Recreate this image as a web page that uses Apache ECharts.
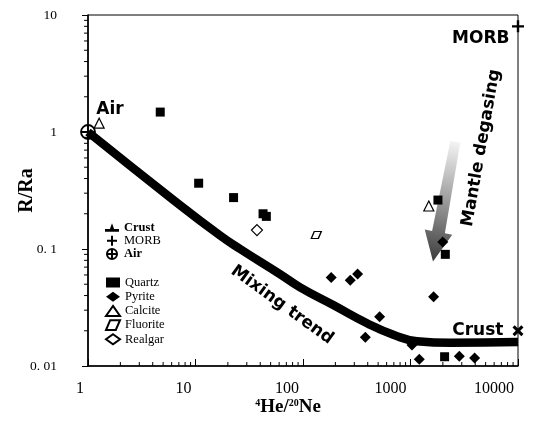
<!DOCTYPE html>
<html><head><meta charset="utf-8">
<script src="https://cdn.jsdelivr.net/npm/echarts@6/dist/echarts.min.js"></script>
<style>html,body{margin:0;padding:0;background:#fff}#c{width:554px;height:425px}</style>
</head><body><div id="c"></div>
<script>
// ---- data ----
const xTicks = [1, 10, 100, 1000, 10000];
const xTickLabels = ['1', '10', '100', '1000', '10000'];
const yTicks = [0.01, 0.1, 1, 10];
const yTickLabels = ['0. 01', '0. 1', '1', '10'];

const airPt = [[1, 1]];
const morbPt = [[10000, 8]];
const crustPt = [[10000, 0.02]];

const quartzX = [4.7, 10.7, 22.6, 42.5, 45.6, 1800, 2108, 2076];
const quartzY = [1.48, 0.365, 0.275, 0.20, 0.19, 0.262, 0.090, 0.012];
const pyriteX = [183, 275, 322, 1640, 516, 380, 1032, 1207, 2844, 3948, 1995];
const pyriteY = [0.057, 0.054, 0.061, 0.039, 0.0264, 0.0176, 0.0151, 0.0114, 0.0121, 0.0117, 0.115];
const calciteX = [1.27, 1480];
const calciteY = [1.19, 0.233];
const fluoriteX = [133];
const fluoriteY = [0.132];
const realgarX = [37.3];
const realgarY = [0.145];

const trendX = [1, 6, 17, 26, 61, 94, 193, 394, 692, 1150, 2345, 10000];
const trendY = [1, 0.27, 0.13, 0.100, 0.061, 0.047, 0.033, 0.0232, 0.0185, 0.0163, 0.0158, 0.016];

// arrow: [xStart, yStart, xTip, yTip]
const degasArrow = [[2612, 0.826, 1619, 0.078]];

// annotations: [x, y, text, rotationDeg]
const notes = [
  [1.6, 1.57, 'Air', 0],
  [4508, 6.32, 'MORB', 0],
  [4227, 0.0199, 'Crust', 0],
  [63.8, 0.0332, 'Mixing trend', -36],
  [4560, 0.73, 'Mantle degasing', 80]
];

// minor tick positions (log axis decoration)
const mant = [2, 3, 4, 5, 6, 7, 8, 9];
const xMinor = [];
[1, 10, 100, 1000].forEach(d => mant.forEach(m => xMinor.push([m * d, 0.01])));
const yMinor = [];
[0.01, 0.1, 1].forEach(d => mant.forEach(m => yMinor.push([1, +(m * d).toPrecision(3)])));

const zip = (a, b) => a.map((v, i) => [v, b[i]]);
function lookup(v, ticks, labels) {
  for (let i = 0; i < ticks.length; i++) {
    if (Math.abs(Math.log10(v) - Math.log10(ticks[i])) < 1e-6) return labels[i];
  }
  return '';
}

const chart = echarts.init(document.getElementById('c'), null, {renderer: 'canvas'});
const serif = 'Liberation Serif';
const bold = 'bold 17px "DejaVu Sans"';

const airPath = 'path://M10,0 A10,10 0 1,1 10,20 A10,10 0 1,1 10,0 Z M0,10 L20,10 M10,0 L10,20';
const plusPath = 'path://M4,0 L6,0 L6,4 L10,4 L10,6 L6,6 L6,10 L4,10 L4,6 L0,6 L0,4 L4,4 Z';
const crossPath = 'path://M2,0 L5,3 L8,0 L10,2 L7,5 L10,8 L8,10 L5,7 L2,10 L0,8 L3,5 L0,2 Z';
const crustIcon = 'path://M0,8 L10,8 L10,10 L0,10 Z M3.5,8 L5,4 L6.5,8 Z';
const paraPath = 'path://M3,0 L10,0 L7,7 L0,7 Z';

const option = {
  animation: false,
  backgroundColor: '#fff',
  grid: {left: 88, right: 36, top: 15, bottom: 59, show: true, borderColor: '#000', borderWidth: 1,
    containLabel: false, outerBoundsMode: 'none'},
  legend: [
    {
      orient: 'vertical', left: 100, top: 216, itemWidth: 14, itemHeight: 10, itemGap: 0.2,
      selectedMode: false,
      textStyle: {fontFamily: serif, fontSize: 12.5, color: '#000'},
      data: [
        {name: 'Crust', icon: crustIcon, textStyle: {fontWeight: 'bold'}},
        {name: 'MORB'},
        {name: 'Air', textStyle: {fontWeight: 'bold'}}
      ]
    },
    {
      orient: 'vertical', left: 100, top: 271, itemWidth: 14, itemHeight: 10, itemGap: 1.2,
      selectedMode: false,
      textStyle: {fontFamily: serif, fontSize: 12.5, color: '#000'},
      data: ['Quartz', 'Pyrite', 'Calcite', 'Fluorite', 'Realgar']
    }
  ],
  xAxis: {
    type: 'log', logBase: 10, min: 1, max: 10000,
    name: '{s|4}He/{s|20}Ne', nameLocation: 'middle', nameGap: 32, nameMoveOverlap: false,
    nameTextStyle: {
      fontFamily: serif, fontWeight: 'bold', fontSize: 19, color: '#000', padding: [0, 30, 0, 0],
      rich: {s: {fontFamily: serif, fontWeight: 'bold', fontSize: 10, verticalAlign: 'top', padding: [0, 0, 8, 0]}}
    },
    axisLine: {lineStyle: {color: '#000', width: 1.6}},
    axisTick: {inside: true, length: 7, lineStyle: {color: '#000', width: 1}},
    axisLabel: {
      fontFamily: serif, fontSize: 16, color: '#000', margin: 15, align: 'right', padding: [0, 4, 0, 0],
      formatter: v => lookup(v, xTicks, xTickLabels)
    },
    splitLine: {show: false}
  },
  yAxis: {
    type: 'log', logBase: 10, min: 0.01, max: 10,
    name: 'R/Ra', nameLocation: 'middle', nameGap: 51, nameMoveOverlap: false,
    nameTextStyle: {fontFamily: serif, fontWeight: 'bold', fontSize: 20, color: '#000'},
    axisLine: {lineStyle: {color: '#000', width: 1.6}},
    axisTick: {inside: false, length: 6, lineStyle: {color: '#000', width: 1}},
    axisLabel: {
      fontFamily: serif, fontSize: 13.5, color: '#000', margin: 31,
      formatter: v => lookup(v, yTicks, yTickLabels)
    },
    splitLine: {show: false}
  },
  series: [
    {
      name: 'Mixing trend', type: 'line', data: zip(trendX, trendY), smooth: 0.5,
      symbol: 'none', lineStyle: {color: '#000', width: 8.5}, z: 2, silent: true
    },
    {
      name: 'arrow', type: 'custom', data: degasArrow, z: 2, silent: true,
      renderItem: function (params, api) {
        const p0 = api.coord([api.value(0), api.value(1)]);
        const p1 = api.coord([api.value(2), api.value(3)]);
        const dx = p1[0] - p0[0], dy = p1[1] - p0[1];
        const L = Math.sqrt(dx * dx + dy * dy);
        const ux = dx / L, uy = dy / L, nx = -uy, ny = ux;
        const hl = 30, sw0 = 5, sw1 = 6.5, hw = 14;
        const b = [p1[0] - ux * hl, p1[1] - uy * hl];
        const pts = [
          [p0[0] + nx * sw0, p0[1] + ny * sw0],
          [b[0] + nx * sw1, b[1] + ny * sw1],
          [b[0] + nx * hw, b[1] + ny * hw],
          p1,
          [b[0] - nx * hw, b[1] - ny * hw],
          [b[0] - nx * sw1, b[1] - ny * sw1],
          [p0[0] - nx * sw0, p0[1] - ny * sw0]
        ];
        return {
          type: 'polygon', shape: {points: pts},
          style: {
            fill: new echarts.graphic.LinearGradient(p0[0], p0[1], p1[0], p1[1], [
              {offset: 0, color: '#f4f4f4'}, {offset: 0.5, color: '#9a9a9a'}, {offset: 1, color: '#3c3c3c'}
            ], true),
            stroke: null
          }
        };
      }
    },
    {name: 'Quartz', type: 'scatter', data: zip(quartzX, quartzY), symbol: 'rect', symbolSize: 9,
      itemStyle: {color: '#000', opacity: 1}, z: 5},
    {name: 'Pyrite', type: 'scatter', data: zip(pyriteX, pyriteY), symbol: 'diamond', symbolSize: 11,
      itemStyle: {color: '#000', opacity: 1}, z: 5},
    {name: 'Calcite', type: 'scatter', data: zip(calciteX, calciteY), symbol: 'triangle', symbolSize: 10,
      itemStyle: {color: '#fff', borderColor: '#000', borderWidth: 1.2, opacity: 1}, z: 5},
    {name: 'Fluorite', type: 'scatter', data: zip(fluoriteX, fluoriteY), symbol: paraPath, symbolSize: [10, 7],
      itemStyle: {color: '#fff', borderColor: '#000', borderWidth: 1.2, opacity: 1}, z: 5},
    {name: 'Realgar', type: 'scatter', data: zip(realgarX, realgarY), symbol: 'diamond', symbolSize: 11,
      itemStyle: {color: '#fff', borderColor: '#000', borderWidth: 1.2, opacity: 1}, z: 5},
    {name: 'Crust', type: 'scatter', data: crustPt, symbol: crossPath, symbolSize: 11, clip: false,
      itemStyle: {color: '#000', opacity: 1}, z: 5},
    {name: 'MORB', type: 'scatter', data: morbPt, symbol: plusPath, symbolSize: 12, clip: false,
      itemStyle: {color: '#000', opacity: 1}, z: 5},
    {name: 'Air', type: 'scatter', data: airPt, symbol: airPath, symbolSize: 14, clip: false,
      itemStyle: {color: 'rgba(0,0,0,0)', borderColor: '#000', borderWidth: 1.8, opacity: 1}, z: 6},
    {
      name: 'notes', type: 'custom', data: notes, z: 7, silent: true,
      renderItem: function (params, api) {
        const d = notes[params.dataIndex];
        const p = api.coord([d[0], d[1]]);
        return {
          type: 'text', x: p[0], y: p[1], rotation: d[3] * Math.PI / 180,
          style: {text: d[2], font: bold, fill: '#000', align: 'center', verticalAlign: 'middle'}
        };
      }
    },
    {
      name: 'xminor', type: 'custom', data: xMinor, z: 3, silent: true, clip: false,
      renderItem: function (params, api) {
        const p = api.coord([api.value(0), api.value(1)]);
        return {type: 'line', shape: {x1: p[0], y1: p[1], x2: p[0], y2: p[1] - 4},
          style: {stroke: '#000', lineWidth: 1}};
      }
    },
    {
      name: 'yminor', type: 'custom', data: yMinor, z: 3, silent: true, clip: false,
      renderItem: function (params, api) {
        const p = api.coord([api.value(0), api.value(1)]);
        return {type: 'line', shape: {x1: p[0], y1: p[1], x2: p[0] - 4, y2: p[1]},
          style: {stroke: '#000', lineWidth: 1}};
      }
    }
  ]
};
chart.setOption(option);
</script>
</body></html>
